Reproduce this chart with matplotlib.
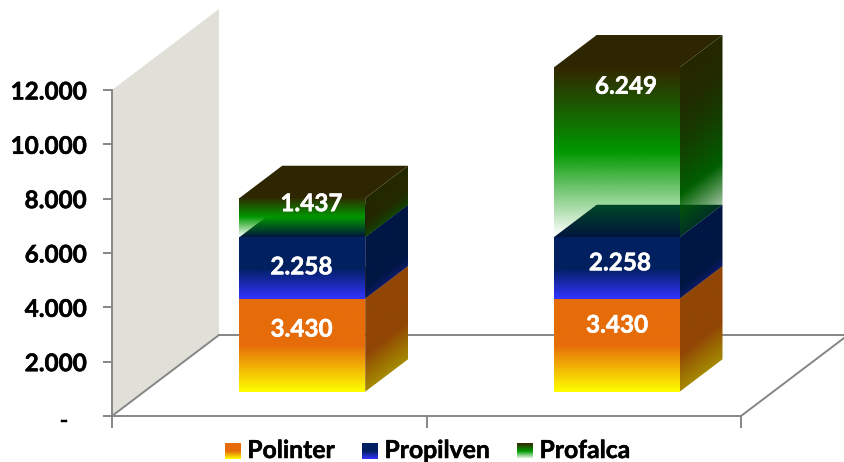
import numpy as np
import matplotlib
matplotlib.use('Agg')
import matplotlib.pyplot as plt
import matplotlib.patheffects as pe
from matplotlib.patches import Polygon, Patch
from matplotlib.image import BboxImage
from matplotlib.legend_handler import HandlerBase
from matplotlib.transforms import Bbox, TransformedBbox, ScaledTranslation

plt.rcParams['font.family'] = ['Lato', 'DejaVu Sans']
plt.rcParams['font.weight'] = 'bold'

# data
series = ['Polinter', 'Propilven', 'Profalca']
polinter = [3430, 3430]
propilven = [2258, 2258]
profalca = [1437, 6249]
y_ticks = [0, 2000, 4000, 6000, 8000, 10000, 12000]
y_labels = ['-', '2.000', '4.000', '6.000', '8.000', '10.000', '12.000']

# gradient stops: top, middle, bottom (r, g, b, alpha)
front_cols = {
    'Polinter': [(230, 108, 10, 1), (230, 108, 10, 1), (255, 255, 0, 1)],
    'Propilven': [(0, 32, 96, 1), (0, 32, 96, 1), (51, 51, 255, 1)],
    'Profalca': [(51, 38, 0, 1), (0, 153, 0, 1), (0, 153, 0, 0)],
}
side_cols = {
    'Polinter': [(145, 70, 5, 1), (145, 70, 5, 1), (175, 175, 0, 1)],
    'Propilven': [(0, 22, 67, 1), (0, 22, 67, 1), (35, 35, 170, 1)],
    'Profalca': [(35, 40, 0, 1), (0, 95, 0, 1), (0, 95, 0, 0)],
}
# the side faces do not fade quite like the fronts
side_gamma = {'Polinter': 0.65, 'Propilven': 0.8, 'Profalca': 1.4}
top_cols = {'Polinter': '#91460a', 'Propilven': '#00163c', 'Profalca': '#2d2600'}

# label offsets by hand, in pixels (right, up)
label_off = {
    'Polinter': [(-1, 16), (0, 20)],
    'Propilven': [(-1, 1), (3, 5)],
    'Profalca': [(9, 14), (9, 66)],
}

# 3d look: how far the back of the box is shifted in data units
DX = 107 / 314.5
DY = 81 / (326 / 12000)
GRAY = '#868686'
heavy = lambda c: [pe.withStroke(linewidth=0.35, foreground=c)]


def proj(x, z, y):
    return x + z * DX, y + z * DY


def grad(t, cols):
    cols = np.array(cols, dtype=float)
    cols[:, :3] /= 255
    return np.stack([np.interp(t, [0, 0.5, 1], cols[:, i]) for i in range(4)], axis=-1)


def paint(ax, verts, xx, yy, rgba, z):
    # gradient image clipped to the face outline
    im = ax.imshow(rgba, extent=[xx[0], xx[-1], yy[0], yy[-1]], origin='lower',
                   aspect='auto', interpolation='bilinear', zorder=z)
    im.set_clip_path(Polygon(verts, closed=True, transform=ax.transData))
    im.set_clip_box(ax.figure.bbox)


class GradHandler(HandlerBase):
    def create_artists(self, legend, orig, xd, yd, w, h, fontsize, trans):
        # 15x16 px key, centred on the text line
        bh = 16 * 0.72
        box = Bbox.from_bounds(-xd, -yd + h / 2 - bh / 2 - 1, w, bh)
        im = BboxImage(TransformedBbox(box, trans), interpolation='bilinear')
        t = np.linspace(0, 1, 64)
        over = grad(t, front_cols[orig.get_label()])
        # flatten the alpha over white for the key
        over[:, :3] = over[:, :3] * over[:, 3:] + (1 - over[:, 3:])
        over[:, 3] = 1
        im.set_data(over[:, None, :])
        return [im]


fig = plt.figure(figsize=(8.44, 4.62), dpi=100)
ax = fig.add_axes([112 / 844, 46 / 462, 629 / 844, 326 / 462])
ax.set_facecolor('none')

# back wall and floor
wall = [proj(0, 0, 0), proj(0, 0, 12000), proj(0, 1, 12000), proj(0, 1, 0)]
ax.add_patch(Polygon(wall, closed=True, fc='#e0e0d9', ec='none', clip_on=False, zorder=1))
floor_x = [proj(0, 1, 0), proj(2, 1, 0), proj(2, 0, 0)]
ax.plot(*zip(*floor_x), color=GRAY, lw=1.4, clip_on=False, zorder=2)
ax.plot(*zip(proj(0, 0, 0), proj(0, 1, 0)), color=GRAY, lw=1.4, clip_on=False, zorder=2)

# the boxes
z = 3
for i in range(2):
    x0, x1 = i + 0.303, i + 0.703
    base = 0
    for name, vals in zip(series, [polinter, propilven, profalca]):
        h = vals[i]
        lo, hi = base, base + h
        # top of the box first, Profalca lets it show through
        top = [proj(x0, .3, hi), proj(x1, .3, hi), proj(x1, .7, hi), proj(x0, .7, hi)]
        ax.add_patch(Polygon(top, closed=True, fc=top_cols[name], ec='none', clip_on=False, zorder=z))
        z += 1
        # front
        fx0, flo = proj(x0, .3, lo)
        fx1, fhi = proj(x1, .3, hi)
        yy = np.linspace(flo, fhi, 128)
        t = (fhi - yy) / (fhi - flo)
        front = [(fx0, flo), (fx1, flo), (fx1, fhi), (fx0, fhi)]
        paint(ax, front, [fx0, fx1], yy, grad(t, front_cols[name])[:, None, :], z)
        z += 1
        # right side, colours run along the slant
        side = [proj(x1, .3, lo), proj(x1, .7, lo), proj(x1, .7, hi), proj(x1, .3, hi)]
        sx = np.linspace(side[0][0], side[1][0], 60)
        sy = np.linspace(side[0][1], side[2][1], 260)
        mx, my = np.meshgrid(sx, sy)
        sz = (mx - side[0][0]) / DX
        t = np.clip((hi - (my - sz * DY)) / h, 0, 1) ** side_gamma[name]
        paint(ax, side, sx, sy, grad(t, side_cols[name]), z)
        z += 1
        dx, dy = label_off[name][i]
        ax.annotate(f'{h:,}'.replace(',', '.'), xy=((fx0 + fx1) / 2, (flo + fhi) / 2),
                    xytext=(dx, dy), textcoords='offset pixels', ha='center', va='center',
                    color='white', fontsize=17.5, fontweight='bold', zorder=60, annotation_clip=False,
                    path_effects=heavy('white'))
        base = hi

# reset, imshow moved the limits
ax.set_xlim(0, 2)
ax.set_ylim(0, 12000)

for s in ['top', 'right']:
    ax.spines[s].set_visible(False)
for s in ['left', 'bottom']:
    ax.spines[s].set_color(GRAY)
    ax.spines[s].set_linewidth(1.4)
    ax.spines[s].set_zorder(2)
ax.set_xticks([0, 1, 2])
ax.set_xticklabels(['', '', ''])
ax.tick_params(axis='x', length=8.5, width=1.4, color=GRAY)
ax.set_yticks(y_ticks)
ax.set_yticklabels(y_labels)
ax.tick_params(axis='y', length=6.5, width=1.4, color=GRAY, pad=12, labelsize=17.5, labelcolor='black')
plt.setp(ax.get_yticklabels(), path_effects=heavy('black'))
dash = ax.get_yticklabels()[0]
dash.set_transform(dash.get_transform() + ScaledTranslation(-0.18, -0.03, fig.dpi_scale_trans))

handles = [Patch(label=n) for n in series]
leg = ax.legend(handles=handles, handler_map={Patch: GradHandler()}, ncol=3, frameon=False,
                loc='center', bbox_to_anchor=(427.5 / 844, 11.5 / 462), bbox_transform=fig.transFigure,
                fontsize=17.8, handlelength=0.61, handleheight=0.7, handletextpad=0.3,
                columnspacing=1.11, borderpad=0, borderaxespad=0)
plt.setp(leg.get_texts(), path_effects=heavy('black'))

fig.savefig('out.png', dpi=100)
